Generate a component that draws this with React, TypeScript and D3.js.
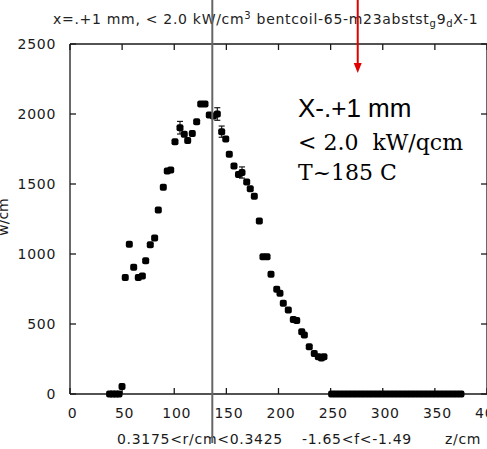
import React from "react";
import * as d3 from "d3";

const zPeak = [49.9, 53.0, 56.9, 61.1, 65.5, 69.4, 72.6, 77.0, 81.2, 84.7, 89.5, 93.3, 96.6, 100.7, 105.5, 109.6, 112.9, 117.3, 121.5, 125.4, 129.5, 133.6, 137.5, 141.3, 145.5, 149.4, 152.8, 157.3, 161.6, 165.0, 169.5, 172.9, 176.8, 181.6, 185.1, 189.0, 192.8, 198.3, 201.4, 204.6, 209.4, 214.2, 217.5, 222.3, 224.8, 229.5, 234.3, 238.2, 241.2, 243.6];
const powerPeak = [54, 833, 1069, 905, 833, 843, 952, 1066, 1114, 1314, 1476, 1593, 1600, 1802, 1902, 1855, 1810, 1860, 1945, 2071, 2071, 1993, 1985, 2000, 1874, 1821, 1712, 1629, 1568, 1582, 1514, 1466, 1412, 1236, 981, 981, 855, 748, 719, 648, 600, 533, 525, 445, 421, 338, 290, 266, 257, 266];
const errorIndex = [14, 23, 24, 29];
const errorSize = [45, 45, 40, 40];
const zZeroLeft = [38, 41, 44, 47];
const zZeroRight = [251, 255, 259, 263, 267, 271, 275, 279, 283, 287, 291, 295, 299, 303, 307, 311, 315, 319, 323, 327, 331, 335, 339, 343, 347, 351, 355, 359, 363, 367, 371, 375];
const xTicks = [0, 50, 100, 150, 200, 250, 300, 350, 400];
const yTicks = [0, 500, 1000, 1500, 2000, 2500];
const grayLineZ = 136.5;
const redArrowZ = 276;

const W = 487;
const H = 449;

export default function App() {
  const x = d3.scaleLinear().domain([0, 400]).range([70, 487]);
  const y = d3.scaleLinear().domain([0, 2500]).range([394, 44]);
  const ink = "#1a1a1a";
  const font = "DejaVu Sans, sans-serif";
  const ls = 0.7;
  const pts: [number, number][] = [
    ...zZeroLeft.map((z) => [z, 0] as [number, number]),
    ...zPeak.map((z, i) => [z, powerPeak[i]] as [number, number]),
    ...zZeroRight.map((z) => [z, 0] as [number, number]),
  ];
  const m = 7;
  return (
    <svg width={W} height={H} style={{ position: "absolute", left: 0, top: 0, background: "#fff" }}>
      <rect x={0} y={0} width={W} height={H} fill="#fff" />
      {/* frame */}
      <g stroke={ink} strokeWidth={1.3} fill="none">
        <line x1={x(0)} y1={y(2500)} x2={x(400)} y2={y(2500)} />
        <line x1={x(0)} y1={y(0)} x2={x(400)} y2={y(0)} />
        <line x1={x(0)} y1={y(0)} x2={x(0)} y2={y(2500)} />
        <line x1={x(400)} y1={y(0)} x2={x(400)} y2={y(2500)} />
        {xTicks.map((t) => (
          <g key={"xt" + t}>
            <line x1={x(t)} y1={y(0)} x2={x(t)} y2={y(0) - 6} />
            <line x1={x(t)} y1={y(2500)} x2={x(t)} y2={y(2500) + 6} />
          </g>
        ))}
        {yTicks.map((t) => (
          <g key={"yt" + t}>
            <line x1={x(0)} y1={y(t)} x2={x(0) + 6} y2={y(t)} />
            <line x1={x(400)} y1={y(t)} x2={x(400) - 6} y2={y(t)} />
          </g>
        ))}
      </g>
      {/* tick labels */}
      <g fill={ink} fontFamily={font} fontSize={14} letterSpacing={ls}>
        {xTicks.map((t) => (
          <text key={"xl" + t} x={x(t) + 2.5} y={418} textAnchor="middle">
            {t}
          </text>
        ))}
        {yTicks.map((t) => (
          <text key={"yl" + t} x={56} y={y(t) + 5} textAnchor="end">
            {t}
          </text>
        ))}
      </g>
      {/* title */}
      <text x={53} y={24} fill="#222" fontFamily={font} fontSize={14} letterSpacing={ls}>
        x=.+1 mm, &lt; 2.0 kW/cm<tspan dy={-5} fontSize={10}>3</tspan>
        <tspan dy={5}> bentcoil-65-m23abstst</tspan>
        <tspan dy={3} fontSize={10}>g</tspan>
        <tspan dy={-3}>9</tspan>
        <tspan dy={3} fontSize={10}>d</tspan>
        <tspan dy={-3}>X-1</tspan>
      </text>
      {/* y label */}
      <text transform="translate(8,217) rotate(-90)" fill={ink} fontFamily={font} fontSize={14} textAnchor="middle">
        w/cm
      </text>
      {/* bottom label */}
      <g fill={ink} fontFamily={font} fontSize={14} letterSpacing={ls}>
        <text x={117} y={444}>0.3175&lt;r/cm&lt;0.3425</text>
        <text x={302} y={444}>-1.65&lt;f&lt;-1.49</text>
        <text x={445} y={444}>z/cm</text>
      </g>
      {/* error bars */}
      <g stroke={ink} strokeWidth={1.2}>
        {errorIndex.map((idx, k) => {
          const z = zPeak[idx];
          const v = powerPeak[idx];
          const e = errorSize[k];
          return (
            <g key={"eb" + idx}>
              <line x1={x(z)} y1={y(v - e)} x2={x(z)} y2={y(v + e)} />
              <line x1={x(z) - 3} y1={y(v + e)} x2={x(z) + 3} y2={y(v + e)} />
              <line x1={x(z) - 3} y1={y(v - e)} x2={x(z) + 3} y2={y(v - e)} />
            </g>
          );
        })}
      </g>
      {/* points */}
      <g fill="#000">
        {pts.map(([z, v], i) => (
          <rect key={"p" + i} x={x(z) - m / 2} y={y(v) - m / 2} width={m} height={m} rx={2} />
        ))}
      </g>
      {/* gray vertical line */}
      <line x1={x(grayLineZ)} y1={0} x2={x(grayLineZ)} y2={443} stroke="#666" strokeWidth={2} />
      {/* red arrow */}
      <line x1={x(redArrowZ)} y1={0} x2={x(redArrowZ)} y2={64} stroke="#e00000" strokeWidth={2} />
      <path
        d={`M${x(redArrowZ) - 4},${63} L${x(redArrowZ) + 4},${63} L${x(redArrowZ)},${73} Z`}
        fill="#e00000"
      />
      {/* annotation */}
      <text x={298} y={117} fill="#000" fontFamily="Liberation Sans, Arial, sans-serif" fontSize={26}>
        X-.+1 mm
      </text>
      <text x={298} y={150} fill="#000" fontFamily="DejaVu Serif, serif" fontSize={22}>
        {"< 2.0\u00a0\u00a0kW/qcm"}
      </text>
      <text x={298} y={180} fill="#000" fontFamily="DejaVu Serif, serif" fontSize={22}>
        T~185 C
      </text>
    </svg>
  );
}
